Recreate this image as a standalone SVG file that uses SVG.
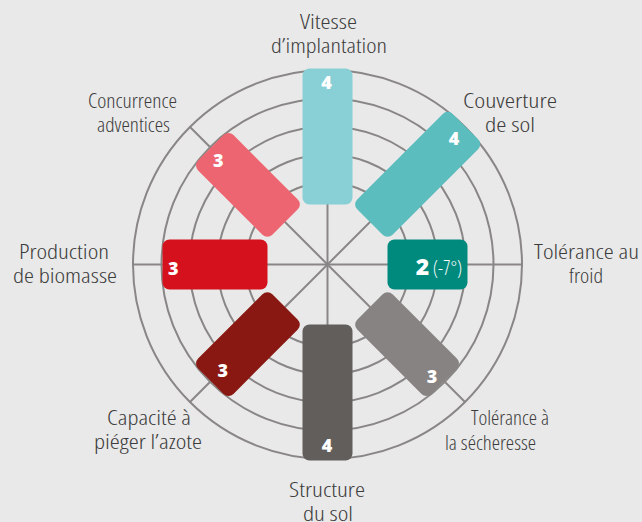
<svg xmlns="http://www.w3.org/2000/svg" width="642" height="522" viewBox="0 0 642 522">
<style>
.ring{fill:none;stroke:#8A8686;stroke-width:2}
.spoke{stroke:#8A8686;stroke-width:2}
.lbl{font-family:"Open Sans","Liberation Sans",sans-serif;font-weight:300;font-stretch:condensed;font-size:20px;fill:#3C3C3C}
.num{font-family:"Open Sans","Liberation Sans",sans-serif;font-weight:800;font-size:18px;fill:#FFFFFF;text-anchor:middle}
.thin{font-family:"Open Sans","Liberation Sans",sans-serif;font-weight:300;font-stretch:condensed;font-size:21px;fill:#FFFFFF}
</style>
<rect width="642" height="522" fill="#E9E9E9"/>
<g id="grid">
<circle class="ring" cx="327.5" cy="264.5" r="82"/>
<circle class="ring" cx="327.5" cy="264.5" r="110"/>
<circle class="ring" cx="327.5" cy="264.5" r="138"/>
<circle class="ring" cx="327.5" cy="264.5" r="166"/>
<circle class="ring" cx="327.5" cy="264.5" r="194.5"/>
</g>
<g id="connectors">
<line class="spoke" x1="133" y1="264.5" x2="522" y2="264.5"/>
<line class="spoke" x1="327.5" y1="70" x2="327.5" y2="459"/>
<line class="spoke" x1="190" y1="127" x2="465" y2="402"/>
<line class="spoke" x1="465" y1="127" x2="190" y2="402"/>
</g>
<g id="vitesse">
<rect x="387.5" y="239.5" width="136" height="50" rx="7" fill="#89CFD6" transform="rotate(270 327.5 264.5)"/>
<text class="num" x="326.5" y="88.5">4</text>
<text class="lbl" x="300" y="28.5" textLength="57" lengthAdjust="spacingAndGlyphs">Vitesse</text>
<text class="lbl" x="271" y="52.5" textLength="116" lengthAdjust="spacingAndGlyphs">d’implantation</text>
</g>
<g id="couverture">
<rect x="387.5" y="239.5" width="135" height="50" rx="7" fill="#5BBDBD" transform="rotate(315 327.5 264.5)"/>
<text class="num" x="454" y="145">4</text>
<text class="lbl" x="463" y="107.5" textLength="94" lengthAdjust="spacingAndGlyphs">Couverture</text>
<text class="lbl" x="485" y="131.5" textLength="50" lengthAdjust="spacingAndGlyphs">de sol</text>
</g>
<g id="froid">
<rect x="387.5" y="239.5" width="80" height="50" rx="7" fill="#008A7E"/>
<text class="num" x="422.5" y="275" style="font-size:23px">2</text>
<text class="thin" x="433" y="275" textLength="29" lengthAdjust="spacingAndGlyphs">(-7°)</text>
<text class="lbl" x="534" y="258.5" textLength="105" lengthAdjust="spacingAndGlyphs">Tolérance au</text>
<text class="lbl" x="569" y="283" textLength="34" lengthAdjust="spacingAndGlyphs">froid</text>
</g>
<g id="secheresse">
<rect x="387.5" y="239.5" width="105" height="50" rx="7" fill="#878382" transform="rotate(45 327.5 264.5)"/>
<text class="num" x="432" y="382.5">3</text>
<text class="lbl" x="471" y="425" textLength="78" lengthAdjust="spacingAndGlyphs">Tolérance à</text>
<text class="lbl" x="445" y="450" textLength="91" lengthAdjust="spacingAndGlyphs">la sécheresse</text>
</g>
<g id="structure">
<rect x="387.5" y="239.5" width="136" height="50" rx="7" fill="#625E5C" transform="rotate(90 327.5 264.5)"/>
<text class="num" x="327" y="451.5">4</text>
<text class="lbl" x="289" y="497" textLength="76" lengthAdjust="spacingAndGlyphs">Structure</text>
<text class="lbl" x="303" y="521" textLength="50" lengthAdjust="spacingAndGlyphs">du sol</text>
</g>
<g id="azote">
<rect x="387.5" y="239.5" width="105" height="50" rx="7" fill="#8A1812" transform="rotate(135 327.5 264.5)"/>
<text class="num" x="222.8" y="376.5">3</text>
<text class="lbl" x="107" y="425" textLength="84" lengthAdjust="spacingAndGlyphs">Capacité à</text>
<text class="lbl" x="94" y="449" textLength="108" lengthAdjust="spacingAndGlyphs">piéger l’azote</text>
</g>
<g id="biomasse">
<rect x="387.5" y="239.5" width="105" height="50" rx="7" fill="#D5111D" transform="rotate(180 327.5 264.5)"/>
<text class="num" x="173.3" y="275">3</text>
<text class="lbl" x="19" y="258.5" textLength="90" lengthAdjust="spacingAndGlyphs">Production</text>
<text class="lbl" x="13" y="282.5" textLength="104" lengthAdjust="spacingAndGlyphs">de biomasse</text>
</g>
<g id="concurrence">
<rect x="387.5" y="239.5" width="105" height="50" rx="7" fill="#ED6570" transform="rotate(225 327.5 264.5)"/>
<text class="num" x="218.3" y="166.5">3</text>
<text class="lbl" x="88" y="107.5" textLength="89" lengthAdjust="spacingAndGlyphs">Concurrence</text>
<text class="lbl" x="97" y="132" textLength="73" lengthAdjust="spacingAndGlyphs">adventices</text>
</g>
</svg>
